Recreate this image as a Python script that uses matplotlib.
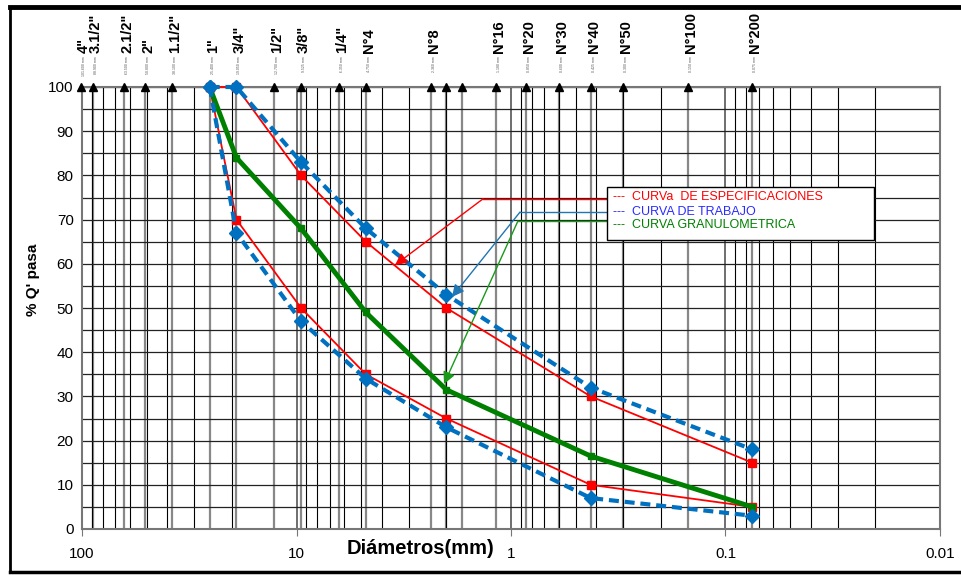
import numpy as np
import matplotlib.pyplot as plt
import matplotlib.transforms as mtransforms
from matplotlib.patches import Rectangle
from matplotlib.lines import Line2D

plt.rcParams['font.family'] = ['Liberation Sans', 'DejaVu Sans']

# tamices (etiquetas arriba)
tamiz_nombre = ['4"', '3.1/2"', '2.1/2"', '2"', '1.1/2"', '1"', '3/4"', '1/2"', '3/8"', '1/4"',
                'N°4', 'N°8', 'N°16', 'N°20', 'N°30', 'N°40', 'N°50', 'N°100', 'N°200']
tamiz_mm = [101.6, 88.9, 63.5, 50.8, 38.1, 25.4, 19.05, 12.7, 9.525, 6.35,
            4.75, 2.36, 1.18, 0.85, 0.6, 0.425, 0.3, 0.15, 0.075]
extra_mm = [2.0, 1.7]  # N°10, N°12 (solo triangulo)

# curvas
d_mm = [25.4, 19.05, 9.525, 4.75, 2.0, 0.425, 0.075]
esp_sup = [100, 100, 80, 65, 50, 30, 15]
esp_inf = [100, 70, 50, 35, 25, 10, 5]
trab_sup = [100, 100, 83, 68, 53, 32, 18]
trab_inf = [100, 67, 47, 34, 23, 7, 3]
granulo = [100, 84, 68, 49, 31.5, 16.5, 5]

W, H = 961, 575
fig = plt.figure(figsize=(W / 100, H / 100), dpi=100)
ax = fig.add_axes([82 / W, 1 - 529 / H, (940 - 82) / W, (529 - 87) / H])

ax.set_xscale('log')
ax.set_xlim(100, 0.01)
ax.set_ylim(0, 100)

# grilla
ax.set_yticks(np.arange(0, 101, 10))
ax.set_yticks(np.arange(0, 101, 5), minor=True)
ax.grid(True, which='major', axis='x', color='#555555', lw=1.2)
ax.grid(True, which='minor', axis='x', color='black', lw=0.8)
ax.grid(True, which='both', axis='y', color='#222222', lw=0.9)
for t in tamiz_mm + extra_mm:
    ax.axvline(t, color='#888888', lw=1.6, zorder=0.5)
ax.set_axisbelow(True)

for s in ax.spines.values():
    s.set_color('#777777')
    s.set_linewidth(1.5)

ax.set_xticks([100, 10, 1, 0.1, 0.01])
ax.set_xticklabels(['100', '10', '1', '0.1', '0.01'])
ax.tick_params(axis='x', which='major', length=5, pad=8, labelsize=11, colors='#777777', labelcolor='black')
ax.tick_params(axis='x', which='minor', length=0)
ax.tick_params(axis='y', which='major', length=0, pad=6, labelsize=11)
ax.tick_params(axis='y', which='minor', length=0)

# triangulos en 100%
tri = tamiz_mm + extra_mm
ax.plot(tri, [100] * len(tri), ls='none', marker='^', color='black', ms=6, clip_on=False, zorder=4)

# curvas
ax.plot(d_mm, esp_sup, color='red', lw=1.3, marker='s', ms=6, zorder=5, clip_on=False)
ax.plot(d_mm, esp_inf, color='red', lw=1.3, marker='s', ms=6, zorder=5, clip_on=False)
ax.plot(d_mm, trab_sup, color='#0070C0', lw=3, ls=(0, (2.4, 1.4)), marker='D', ms=7, zorder=6, clip_on=False)
ax.plot(d_mm, trab_inf, color='#0070C0', lw=3, ls=(0, (2.4, 1.4)), marker='D', ms=7, zorder=6, clip_on=False)
ax.plot(d_mm, granulo, color='green', lw=3.5, marker='s', ms=5, zorder=5, clip_on=False)

# flechas desde la leyenda
flechas = [
    ('red', (0.3345, 74.7), (1.35, 74.7), (3.475, 59.7)),
    ('#1f77b4', (0.3105, 71.7), (0.908, 71.7), (1.884, 52.5)),
    ('#1a9a1a', (0.300, 69.7), (0.928, 69.7), (2.053, 32.8)),
]
for c, p0, p1, p2 in flechas:
    ax.plot([p0[0], p1[0]], [p0[1], p1[1]], color=c, lw=1, zorder=7)
    ax.annotate('', xy=p2, xytext=p1, zorder=7,
                arrowprops=dict(arrowstyle='-|>', color=c, lw=1, mutation_scale=18,
                                shrinkA=0, shrinkB=0))

# leyenda
fig.patches.append(Rectangle((607 / W, 1 - 240 / H), 267 / W, 53 / H, transform=fig.transFigure,
                             facecolor='white', edgecolor='black', lw=1, zorder=1))
ley = [('---  CURVa  DE ESPECIFICACIONES', 'red', 197),
       ('---  CURVA DE TRABAJO', '#2a2aff', 212),
       ('---  CURVA GRANULOMETRICA', 'green', 225)]
for txt, c, py in ley:
    fig.text(613 / W, 1 - py / H, txt, color=c, fontsize=9, va='center', ha='left')

# etiquetas de tamices arriba
tr = mtransforms.blended_transform_factory(ax.transData, fig.transFigure)
tr = tr + mtransforms.ScaledTranslation(3 / 100, 0, fig.dpi_scale_trans)
for n, v in zip(tamiz_nombre, tamiz_mm):
    ax.text(v, 1 - 53 / H, n, transform=tr, rotation=90, ha='center', va='bottom',
            fontsize=10.5, fontweight='bold', clip_on=False)
    ax.text(v, 1 - 56 / H, f'{v:.3f} mm', transform=tr, rotation=90, ha='center', va='top',
            fontsize=2.5, color='#555555', clip_on=False)

# titulos de ejes
fig.text(421 / W, 1 - 548 / H, 'Diámetros(mm)', fontsize=14.5, fontweight='bold', ha='center', va='center')
fig.text(33 / W, 1 - 280 / H, "% Q' pasa", fontsize=11, fontweight='bold', rotation=90,
         ha='center', va='center')

# marco
fig.add_artist(Line2D([10 / W, 1], [1 - 7 / H, 1 - 7 / H], transform=fig.transFigure, color='black', lw=3.5))
fig.add_artist(Line2D([10 / W, 10 / W], [1 - 7 / H, 1 - 572 / H], transform=fig.transFigure, color='black', lw=2))
fig.add_artist(Line2D([10 / W, 1], [1 - 572 / H, 1 - 572 / H], transform=fig.transFigure, color='black', lw=2.5))

fig.savefig('out.png', dpi=100)
